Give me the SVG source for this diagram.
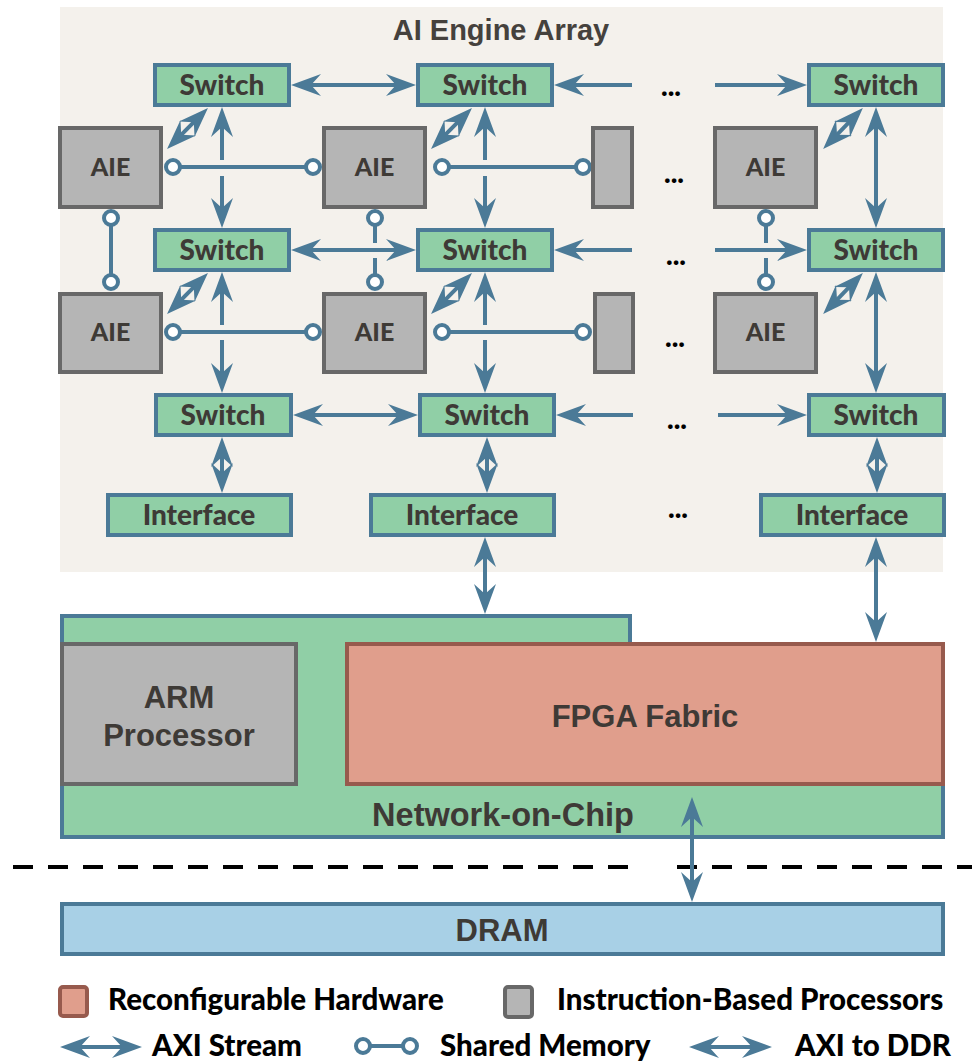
<svg xmlns="http://www.w3.org/2000/svg" width="972" height="1063" viewBox="0 0 972 1063">
  <style>
    .sw { fill: #90cfa6; stroke: #4b7a97; stroke-width: 4; }
    .pe { fill: #b5b5b5; stroke: #686868; stroke-width: 4; }
    .lbl { font-family: Lato, "Noto Sans", sans-serif; font-weight: 900; fill: #3e3a36; text-anchor: middle; }
    .big { font-family: "Liberation Sans", Arial, sans-serif; font-weight: bold; fill: #3e3a36; text-anchor: middle; font-size: 31px; }
    .leg { font-family: Lato, "Noto Sans", sans-serif; font-weight: 900; fill: #000; font-size: 29.5px; }
    .dots { font-family: Lato, "Noto Sans", sans-serif; font-weight: 900; fill: #000; font-size: 28px; text-anchor: middle; }
    .ax { stroke: #4b7a97; stroke-width: 4; fill: none; marker-end: url(#ah); }
    .ax2 { stroke: #4b7a97; stroke-width: 4; fill: none; marker-start: url(#ah); marker-end: url(#ah); }
    .axs { stroke: #4b7a97; stroke-width: 4; fill: none; marker-start: url(#ah); }
    .sm { stroke: #4b7a97; stroke-width: 4; fill: none; }
    .smc { fill: #fff; stroke: #4b7a97; stroke-width: 4; }
  </style>
  <defs>
    <!-- stealth arrowhead; tip sits 8px beyond the line end -->
    <marker id="ah" markerUnits="userSpaceOnUse" orient="auto-start-reverse" overflow="visible" refX="0" refY="0" markerWidth="1" markerHeight="1">
      <path d="M8,0 L-22,-11 L-12,0 L-22,11 Z" fill="#4b7a97"/>
    </marker>
  </defs>

  <rect width="972" height="1063" fill="#fff"/>

  <!-- AI engine array backdrop -->
  <g id="aie-array">
    <rect x="60" y="7" width="883" height="565" fill="#f4f1ec"/>
    <text x="501" y="40" font-family="Liberation Sans, Arial, sans-serif" font-weight="bold" font-size="29" fill="#45413d" text-anchor="middle">AI Engine Array</text>
  </g>

  <!-- continuation dots -->
  <g id="ellipses">
    <text class="dots" x="671" y="96">...</text>
    <text class="dots" x="674" y="183">...</text>
    <text class="dots" x="676" y="265">...</text>
    <text class="dots" x="675" y="347">...</text>
    <text class="dots" x="677" y="429">...</text>
    <text class="dots" x="678" y="518">...</text>
  </g>

  <!-- connectors -->
  <g id="connectors">
    <!-- switch-to-switch horizontal streams -->
    <line class="ax2" x1="299" y1="85" x2="408" y2="85"/>
    <line class="axs" x1="562" y1="85" x2="632" y2="85"/>
    <line class="ax" x1="715" y1="85" x2="799" y2="85"/>
    <line class="ax2" x1="299" y1="250" x2="408" y2="250"/>
    <line class="axs" x1="562" y1="250" x2="632" y2="250"/>
    <line class="ax" x1="715" y1="250" x2="799" y2="250"/>
    <line class="ax2" x1="301" y1="415" x2="410" y2="415"/>
    <line class="axs" x1="564" y1="415" x2="633" y2="415"/>
    <line class="ax" x1="718" y1="415" x2="799" y2="415"/>

    <!-- switch-to-switch vertical streams -->
    <line class="ax" x1="222" y1="160" x2="222" y2="115"/>
    <line class="ax" x1="222" y1="176" x2="222" y2="220"/>
    <line class="ax" x1="222" y1="325" x2="222" y2="280"/>
    <line class="ax" x1="222" y1="340" x2="222" y2="385"/>
    <line class="ax" x1="485" y1="160" x2="485" y2="115"/>
    <line class="ax" x1="485" y1="176" x2="485" y2="220"/>
    <line class="ax" x1="485" y1="325" x2="485" y2="280"/>
    <line class="ax" x1="485" y1="340" x2="485" y2="385"/>
    <line class="ax2" x1="876" y1="115" x2="876" y2="220"/>
    <line class="ax2" x1="876" y1="280" x2="876" y2="385"/>

    <!-- switch-to-AIE streams -->
    <line class="ax2" x1="202.3" y1="113.7" x2="172.7" y2="143.3"/>
    <line class="ax2" x1="466.3" y1="113.7" x2="436.7" y2="143.3"/>
    <line class="ax2" x1="857.3" y1="113.7" x2="828.7" y2="143.3"/>
    <line class="ax2" x1="202.3" y1="278.7" x2="172.7" y2="308.3"/>
    <line class="ax2" x1="466.3" y1="278.7" x2="436.7" y2="308.3"/>
    <line class="ax2" x1="857.3" y1="278.7" x2="828.7" y2="308.3"/>

    <!-- switch-to-interface streams -->
    <line class="ax2" x1="222" y1="445" x2="222" y2="485"/>
    <line class="ax2" x1="487" y1="445" x2="487" y2="485"/>
    <line class="ax2" x1="877" y1="445" x2="877" y2="485"/>

    <!-- interface-to-platform links -->
    <line class="ax2" x1="485" y1="545" x2="485" y2="606"/>
    <line class="ax2" x1="876" y1="545" x2="876" y2="634"/>

    <!-- shared memory, horizontal neighbours -->
    <line class="sm" x1="173" y1="167" x2="313" y2="167"/>
    <line class="sm" x1="442" y1="167" x2="583" y2="167"/>
    <line class="sm" x1="173" y1="332" x2="313" y2="332"/>
    <line class="sm" x1="442" y1="332" x2="583" y2="332"/>
    <!-- shared memory, vertical neighbours -->
    <line class="sm" x1="111" y1="218" x2="111" y2="282"/>
    <line class="sm" x1="375" y1="218" x2="375" y2="243"/>
    <line class="sm" x1="375" y1="258" x2="375" y2="282"/>
    <line class="sm" x1="766" y1="218" x2="766" y2="243"/>
    <line class="sm" x1="766" y1="258" x2="766" y2="282"/>
    <circle class="smc" cx="173" cy="167" r="7"/>
    <circle class="smc" cx="313" cy="167" r="7"/>
    <circle class="smc" cx="442" cy="167" r="7"/>
    <circle class="smc" cx="583" cy="167" r="7"/>
    <circle class="smc" cx="173" cy="332" r="7"/>
    <circle class="smc" cx="313" cy="332" r="7"/>
    <circle class="smc" cx="442" cy="332" r="7"/>
    <circle class="smc" cx="583" cy="332" r="7"/>
    <circle class="smc" cx="111" cy="218" r="7"/>
    <circle class="smc" cx="111" cy="282" r="7"/>
    <circle class="smc" cx="375" cy="218" r="7"/>
    <circle class="smc" cx="375" cy="282" r="7"/>
    <circle class="smc" cx="766" cy="218" r="7"/>
    <circle class="smc" cx="766" cy="282" r="7"/>
  </g>

  <!-- switches -->
  <g id="switch-r1c1"><rect class="sw" x="155" y="65" width="134" height="40"/><text class="lbl" x="222" y="94.5" font-size="28">Switch</text></g>
  <g id="switch-r1c2"><rect class="sw" x="418" y="65" width="134" height="40"/><text class="lbl" x="485" y="94.5" font-size="28">Switch</text></g>
  <g id="switch-r1c3"><rect class="sw" x="809" y="65" width="134" height="40"/><text class="lbl" x="876" y="94.5" font-size="28">Switch</text></g>
  <g id="switch-r2c1"><rect class="sw" x="155" y="230" width="134" height="40"/><text class="lbl" x="222" y="259.5" font-size="28">Switch</text></g>
  <g id="switch-r2c2"><rect class="sw" x="418" y="230" width="134" height="40"/><text class="lbl" x="485" y="259.5" font-size="28">Switch</text></g>
  <g id="switch-r2c3"><rect class="sw" x="809" y="230" width="134" height="40"/><text class="lbl" x="876" y="259.5" font-size="28">Switch</text></g>
  <g id="switch-r3c1"><rect class="sw" x="156" y="395" width="135" height="40"/><text class="lbl" x="223" y="424.5" font-size="28">Switch</text></g>
  <g id="switch-r3c2"><rect class="sw" x="420" y="395" width="134" height="40"/><text class="lbl" x="487" y="424.5" font-size="28">Switch</text></g>
  <g id="switch-r3c3"><rect class="sw" x="809" y="395" width="135" height="40"/><text class="lbl" x="876" y="424.5" font-size="28">Switch</text></g>

  <!-- interface tiles -->
  <g id="interface-c1"><rect class="sw" x="108" y="495" width="183" height="40"/><text class="lbl" x="199" y="524.5" font-size="28">Interface</text></g>
  <g id="interface-c2"><rect class="sw" x="371" y="495" width="183" height="40"/><text class="lbl" x="462" y="524.5" font-size="28">Interface</text></g>
  <g id="interface-c3"><rect class="sw" x="761" y="495" width="183" height="40"/><text class="lbl" x="852" y="524.5" font-size="28">Interface</text></g>

  <!-- AI engines -->
  <g id="aie-r1c1"><rect class="pe" x="60" y="128" width="101" height="79"/><text class="lbl" x="110.5" y="176" font-size="25">AIE</text></g>
  <g id="aie-r1c2"><rect class="pe" x="324" y="128" width="101" height="79"/><text class="lbl" x="374.5" y="176" font-size="25">AIE</text></g>
  <g id="aie-r1c3"><rect class="pe" x="593" y="128" width="39" height="79"/></g>
  <g id="aie-r1c4"><rect class="pe" x="715" y="128" width="101" height="79"/><text class="lbl" x="765.5" y="176" font-size="25">AIE</text></g>
  <g id="aie-r2c1"><rect class="pe" x="60" y="294" width="101" height="78"/><text class="lbl" x="110.5" y="341" font-size="25">AIE</text></g>
  <g id="aie-r2c2"><rect class="pe" x="324" y="294" width="101" height="78"/><text class="lbl" x="374.5" y="341" font-size="25">AIE</text></g>
  <g id="aie-r2c3"><rect class="pe" x="595" y="294" width="38" height="78"/></g>
  <g id="aie-r2c4"><rect class="pe" x="715" y="294" width="101" height="78"/><text class="lbl" x="765.5" y="341" font-size="25">AIE</text></g>

  <!-- network-on-chip with embedded processor and fabric -->
  <g id="noc">
    <path d="M62,616 H630 V644 H943 V837 H62 Z" fill="#90cfa6" stroke="#4b7a97" stroke-width="4"/>
    <text class="big" x="503" y="826" style="font-size:32.5px">Network-on-Chip</text>
  </g>
  <g id="arm">
    <rect class="pe" x="62" y="644" width="234" height="140"/>
    <text class="big" x="179" y="708">ARM</text>
    <text class="big" x="179" y="746">Processor</text>
  </g>
  <g id="fpga">
    <rect x="347" y="644" width="596" height="140" fill="#e09e8c" stroke="#975a4d" stroke-width="4"/>
    <text class="big" x="645" y="727">FPGA Fabric</text>
  </g>

  <!-- chip boundary -->
  <g id="boundary" stroke="#000" stroke-width="4" stroke-dasharray="20 15">
    <line x1="13" y1="867" x2="632" y2="867"/>
    <line x1="677" y1="867" x2="972" y2="867"/>
  </g>

  <g id="ddr-link">
    <line class="ax2" x1="692" y1="805" x2="692" y2="894"/>
  </g>

  <g id="dram">
    <rect x="62" y="904" width="881" height="50" fill="#a8d0e6" stroke="#4b7a97" stroke-width="4"/>
    <text class="big" x="502" y="941">DRAM</text>
  </g>

  <!-- legend -->
  <g id="legend">
    <rect x="60" y="987" width="27" height="29" rx="3" fill="#e09e8c" stroke="#975a4d" stroke-width="4"/>
    <text class="leg" x="108" y="1010">Reconfigurable Hardware</text>
    <rect x="505" y="987" width="27" height="30" rx="3" fill="#b5b5b5" stroke="#686868" stroke-width="4"/>
    <text class="leg" x="557" y="1010">Instruction-Based Processors</text>
    <line class="ax2" x1="68" y1="1047" x2="134" y2="1047"/>
    <text class="leg" x="152" y="1056">AXI Stream</text>
    <line class="sm" x1="363" y1="1046" x2="410" y2="1046"/>
    <circle class="smc" cx="363" cy="1046" r="7"/>
    <circle class="smc" cx="410" cy="1046" r="7"/>
    <text class="leg" x="440" y="1056">Shared Memory</text>
    <line class="ax2" x1="697" y1="1047" x2="764" y2="1047"/>
    <text class="leg" x="795" y="1056">AXI to DDR</text>
  </g>
</svg>
